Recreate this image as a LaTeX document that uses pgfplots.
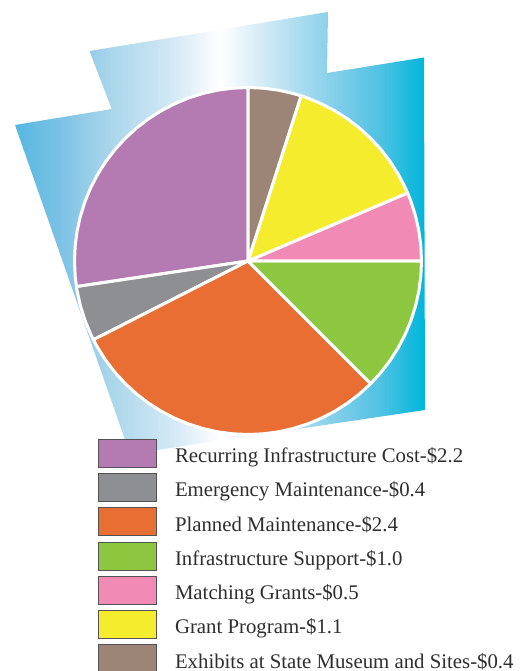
\documentclass[border=0pt]{standalone}
\usepackage{pgfplots}
\pgfplotsset{compat=1.18}
\usepackage{fontspec}
\setmainfont{Liberation Serif}
\definecolor{cPurple}{RGB}{180,123,179}
\definecolor{cGray}{RGB}{142,143,146}
\definecolor{cOrange}{RGB}{233,110,52}
\definecolor{cGreen}{RGB}{141,198,63}
\definecolor{cPink}{RGB}{242,138,182}
\definecolor{cYellow}{RGB}{245,236,46}
\definecolor{cBrown}{RGB}{156,133,118}
\pgfdeclarehorizontalshading{keystone}{100bp}{
 rgb(0bp)=(0.33,0.72,0.88);
 rgb(25bp)=(0.33,0.72,0.88);
 rgb(30.5bp)=(0.49,0.76,0.90);
 rgb(36.7bp)=(0.67,0.84,0.92);
 rgb(44bp)=(0.82,0.91,0.96);
 rgb(50bp)=(1,1,1);
 rgb(56bp)=(0.80,0.91,0.96);
 rgb(63bp)=(0.55,0.82,0.92);
 rgb(69.5bp)=(0.31,0.76,0.89);
 rgb(75bp)=(0,0.71,0.86);
 rgb(100bp)=(0,0.71,0.86)}
\begin{document}
\begin{tikzpicture}
\path[use as bounding box] (0,0) rectangle (520pt,671pt);
\begin{axis}[
  at={(0pt,0pt)}, anchor=south west,
  scale only axis, width=520pt, height=671pt,
  xmin=-248, xmax=272, ymin=-410, ymax=261,
  hide axis, clip=false,
  data cs=cart,
  legend cell align=left,
  legend image code/.code={
    \draw[#1,draw=black!68,line width=1pt,line join=miter] (0pt,-11.5pt) rectangle (58pt,16.5pt);
    \path[draw=none,fill=none] (0pt,0pt) -- (76.5pt,0pt);
  },
  legend style={
    at={(axis cs:-150,-177.7)}, anchor=north west,
    draw=none, fill=none, inner sep=0pt, outer sep=0pt,
    row sep=5.3pt,
    font=\fontsize{20.8}{22}\selectfont,
    text=black!82,
    nodes={inner sep=0pt, outer sep=0pt},
  },
]
% keystone background (pixel positions relative to the pie centre)
\addplot[forget plot, draw=none, shade, shading=keystone] coordinates {
 (-233,136) (-136.3,152) (-158.5,210) (80,249) (79,188)
 (176,203.5) (177,-149) (-118,-193)} -- cycle;

\pgfplotsset{every axis plot/.append style={draw=white, line width=3pt, line join=round}}
% sectors: (angle in degrees, radius in pixels)
\addplot[data cs=polar, fill=cPurple] coordinates {
 (0,0) (-171.5,173.5) (-175,173.5) (-180,173.5) (-185,173.5) (-190,173.5) (-195,173.5) (-200,173.5)
 (-205,173.5) (-210,173.5) (-215,173.5) (-220,173.5) (-225,173.5) (-230,173.5) (-235,173.5)
 (-240,173.5) (-245,173.5) (-250,173.5) (-255,173.5) (-260,173.5) (-265,173.5) (-270,173.5)} -- cycle;
\addplot[data cs=polar, fill=cGray] coordinates {
 (0,0) (-153,173.5) (-155,173.5) (-160,173.5) (-165,173.5) (-170,173.5) (-171.5,173.5)} -- cycle;
\addplot[data cs=polar, fill=cOrange] coordinates {
 (0,0) (-45,173.5) (-50,173.5) (-55,173.5) (-60,173.5) (-65,173.5) (-70,173.5) (-75,173.5) (-80,173.5)
 (-85,173.5) (-90,173.5) (-95,173.5) (-100,173.5) (-105,173.5) (-110,173.5) (-115,173.5) (-120,173.5)
 (-125,173.5) (-130,173.5) (-135,173.5) (-140,173.5) (-145,173.5) (-150,173.5) (-153,173.5)} -- cycle;
\addplot[data cs=polar, fill=cGreen] coordinates {
 (0,0) (0,173.5) (-5,173.5) (-10,173.5) (-15,173.5) (-20,173.5) (-25,173.5) (-30,173.5) (-35,173.5)
 (-40,173.5) (-45,173.5)} -- cycle;
\addplot[data cs=polar, fill=cPink] coordinates {
 (0,0) (23.1,173.5) (20,173.5) (15,173.5) (10,173.5) (5,173.5) (0,173.5)} -- cycle;
\addplot[data cs=polar, fill=cYellow] coordinates {
 (0,0) (72.2,173.5) (70,173.5) (65,173.5) (60,173.5) (55,173.5) (50,173.5) (45,173.5) (40,173.5)
 (35,173.5) (30,173.5) (25,173.5) (23.1,173.5)} -- cycle;
\addplot[data cs=polar, fill=cBrown] coordinates {
 (0,0) (90,173.5) (85,173.5) (80,173.5) (75,173.5) (72.2,173.5)} -- cycle;
\legend{Recurring Infrastructure Cost-\$2.2,
 Emergency Maintenance-\$0.4,
 Planned Maintenance-\$2.4,
 Infrastructure Support-\$1.0,
 Matching Grants-\$0.5,
 Grant Program-\$1.1,
 Exhibits at State Museum and Sites-\$0.4}
\end{axis}
\end{tikzpicture}
\end{document}
